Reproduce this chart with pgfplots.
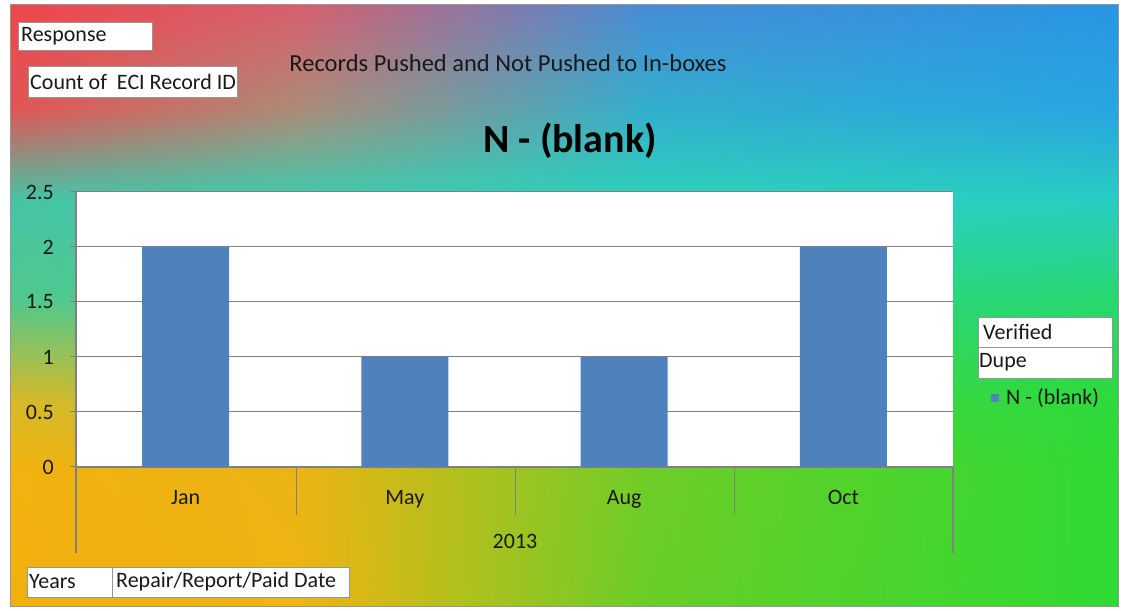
\documentclass[border=0pt]{standalone}
\usepackage{pgfplots}
\pgfplotsset{compat=1.18}
\usetikzlibrary{shadings}
\usepackage{fontspec}
\setmainfont{Carlito}
% background colour grid: rows A..G (top to bottom), columns 1..4 (left to right)
\definecolor{A1}{RGB}{238,70,75}\definecolor{A2}{RGB}{215,95,110}\definecolor{A3}{RGB}{70,140,215}\definecolor{A4}{RGB}{40,150,228}
\definecolor{B1}{RGB}{225,85,85}\definecolor{B2}{RGB}{170,140,120}\definecolor{B3}{RGB}{50,175,205}\definecolor{B4}{RGB}{40,165,225}
\definecolor{C1}{RGB}{70,195,165}\definecolor{C2}{RGB}{60,205,175}\definecolor{C3}{RGB}{45,210,185}\definecolor{C4}{RGB}{40,205,195}
\definecolor{D1}{RGB}{80,200,140}\definecolor{D2}{RGB}{75,205,150}\definecolor{D3}{RGB}{45,212,140}\definecolor{D4}{RGB}{40,215,110}
\definecolor{E1}{RGB}{215,185,40}\definecolor{E2}{RGB}{170,195,60}\definecolor{E3}{RGB}{70,210,70}\definecolor{E4}{RGB}{45,218,60}
\definecolor{F1}{RGB}{242,178,15}\definecolor{F2}{RGB}{235,180,20}\definecolor{F3}{RGB}{110,205,40}\definecolor{F4}{RGB}{45,218,50}
\definecolor{G1}{RGB}{242,176,12}\definecolor{G2}{RGB}{238,180,18}\definecolor{G3}{RGB}{105,205,40}\definecolor{G4}{RGB}{45,218,50}
\definecolor{barblue}{RGB}{79,129,189}
\definecolor{txt}{RGB}{25,25,25}
\definecolor{boxgray}{RGB}{150,150,150}
\newcommand\patch[8]{\shade[upper left=#5, upper right=#6, lower left=#7, lower right=#8] (#1,#2) rectangle (#3,#4);}
\begin{document}
\begin{tikzpicture}[x=1pt,y=1pt]
\useasboundingbox (0,0) rectangle (1121,610);
\fill[white] (0,0) rectangle (1121,610);
% rows y: A=605 B=500 C=410 D=310 E=210 F=140 G=3 ; cols x: 10 300 650 1118
\patch{10}{500}{300.5}{605}{A1}{A2}{B1}{B2}
\patch{300}{500}{650.5}{605}{A2}{A3}{B2}{B3}
\patch{650}{500}{1118}{605}{A3}{A4}{B3}{B4}
\patch{10}{410}{300.5}{500.5}{B1}{B2}{C1}{C2}
\patch{300}{410}{650.5}{500.5}{B2}{B3}{C2}{C3}
\patch{650}{410}{1118}{500.5}{B3}{B4}{C3}{C4}
\patch{10}{310}{300.5}{410.5}{C1}{C2}{D1}{D2}
\patch{300}{310}{650.5}{410.5}{C2}{C3}{D2}{D3}
\patch{650}{310}{1118}{410.5}{C3}{C4}{D3}{D4}
\patch{10}{210}{300.5}{310.5}{D1}{D2}{E1}{E2}
\patch{300}{210}{650.5}{310.5}{D2}{D3}{E2}{E3}
\patch{650}{210}{1118}{310.5}{D3}{D4}{E3}{E4}
\patch{10}{140}{300.5}{210.5}{E1}{E2}{F1}{F2}
\patch{300}{140}{650.5}{210.5}{E2}{E3}{F2}{F3}
\patch{650}{140}{1118}{210.5}{E3}{E4}{F3}{F4}
\patch{10}{3}{300.5}{140.5}{F1}{F2}{G1}{G2}
\patch{300}{3}{650.5}{140.5}{F2}{F3}{G2}{G3}
\patch{650}{3}{1118}{140.5}{F3}{F4}{G3}{G4}
\draw[boxgray, line width=1pt] (10,3) rectangle (1118,605);
\begin{axis}[
  at={(76pt,143pt)}, anchor=south west, scale only axis,
  width=877pt, height=275pt,
  xmin=-0.5, xmax=3.5, ymin=0, ymax=2.5,
  ybar, bar width=87pt,
  axis background/.style={fill=white},
  axis x line*=bottom, axis y line*=left,
  axis line style={gray, line width=1.2pt},
  ymajorgrids, grid style={gray, line width=1pt},
  xtick={0,1,2,3}, xticklabels={Jan,May,Aug,Oct},
  ytick={0,0.5,1,1.5,2,2.5}, yticklabels={0,0.5,1,1.5,2,2.5},
  xtick style={draw=none},
  ytick style={gray, line width=1pt},
  tick align=outside, major tick length=6pt,
  ticklabel style={font=\fontsize{22}{26}\selectfont, text=txt},
  xticklabel style={anchor=center, text height=14pt, text depth=4pt, yshift=-27pt},
  yticklabel style={anchor=east, inner sep=0pt, xshift=-16pt},
]
\addplot[fill=barblue, draw=none] coordinates {(0,2) (1,1) (2,1) (3,2)};
\end{axis}
\draw[gray, line width=1.2pt] (76,143) -- (76,57);
\draw[gray, line width=1.2pt] (953,143) -- (953,57);
\foreach \xx in {296,515,734} {\draw[gray, line width=1pt] (\xx,143) -- (\xx,95);}
\node[text=txt, font=\fontsize{22}{26}\selectfont] at (515,69) {2013};
\node[text=txt, font=\fontsize{24.5}{28}\selectfont] at (508,547) {Records Pushed and Not Pushed to In-boxes};
\node[text=black, font=\fontsize{40}{46}\selectfont\bfseries] at (570,469) {N - (blank)};
\draw[boxgray, fill=white] (18,560) rectangle (152,588);
\node[anchor=west, inner sep=0pt, text=txt, font=\fontsize{22}{26}\selectfont] at (21,574) {Response};
\draw[boxgray, fill=white] (28,513) rectangle (237,544);
\node[anchor=west, inner sep=0pt, text=txt, font=\fontsize{22}{26}\selectfont] at (30,528.5) {Count of\ \ ECI Record ID};
\draw[boxgray, fill=white] (27,13) rectangle (112,43);
\node[anchor=west, inner sep=0pt, text=txt, font=\fontsize{22}{26}\selectfont] at (29,28) {Years};
\draw[boxgray, fill=white] (112,13) rectangle (349,43);
\node[anchor=west, inner sep=0pt, text=txt, font=\fontsize{22}{26}\selectfont] at (116,28) {Repair/Report/Paid Date};
\draw[boxgray, fill=white] (978,263) rectangle (1112,293);
\node[anchor=west, inner sep=0pt, text=txt, font=\fontsize{22}{26}\selectfont] at (983,278) {Verified};
\draw[boxgray, fill=white] (978,232) rectangle (1112,263);
\node[anchor=west, inner sep=0pt, text=txt, font=\fontsize{22}{26}\selectfont] at (979,247.5) {Dupe};
\fill[barblue] (991,208) rectangle (999,216);
\node[anchor=west, inner sep=0pt, text=txt, font=\fontsize{22}{26}\selectfont] at (1006,212) {N - (blank)};
\end{tikzpicture}
\end{document}
